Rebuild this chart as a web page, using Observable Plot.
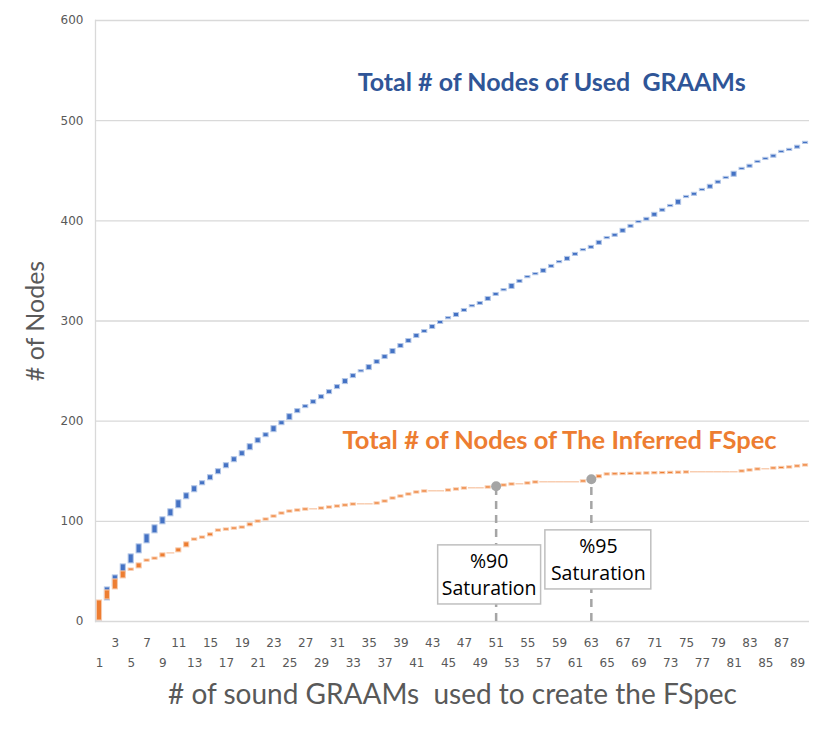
<!DOCTYPE html>
<html><head><meta charset="utf-8">
<script src="https://cdn.jsdelivr.net/npm/d3@7"></script>
<script src="https://cdn.jsdelivr.net/npm/@observablehq/plot@0.6"></script>
<style>body{margin:0;background:#fff;} #chart{width:830px;height:731px;}</style>
</head><body><div id="chart"></div>
<script>
// ---- data ----
const categories = d3.range(1, 91); // # of sound GRAAMs used
const usedGraamNodes = [20,34,46,57,67,77,87,96,104,112,121,128,135,140,146,152,158,164,170,177,
  183,188,195,200,207,212,216,221,226,231,236,242,247,250,256,261,266,272,277,282,
  287,291,296,300,303,308,312,315,319,324,328,331,337,341,344,347,352,356,359,364,
  368,371,375,380,383,387,392,396,399,403,408,412,415,421,424,428,431,436,440,443,
  449,452,456,459,462,466,469,471,475,478];
const inferredFSpecNodes = [21,31,42,50,52,58,61,63,68,68,73,79,82,84,88,91,92,93,94,98,
  100,102,105,108,110,111,112,112,113,114,115,116,117,117,117,118,120,123,125,127,
  129,130,130,130,131,132,133,133,133,134,135,136,137,137,138,139,139,139,139,139,
  139,140,142,146,147,147.2,147.4,147.6,147.8,148,148.2,148.4,148.6,148.8,149,149,149,149,149,149,
  149,150,151,152,152,153,153.5,154,155,156];
const seriesTitles = ["Total # of Nodes of Used  GRAAMs", "Total # of Nodes of The Inferred FSpec"];
const yTicks = [0, 100, 200, 300, 400, 500, 600];
const xTicksUpper = categories.filter(c => c % 4 === 3);
const xTicksLower = categories.filter(c => c % 4 === 1);
const satLabels = ["%90", "%95"];
const satCategories = [51, 63];
const yTitle = "# of Nodes";
const xTitle = "# of sound GRAAMs  used to create the FSpec";

// ---- derived ----
function steps(values) {
  return values.map((v, i) => {
    const prev = i ? values[i - 1] : 0;
    const inc = v - prev;
    let lo = prev + Math.min(1, inc * 0.3), hi = v;
    if (hi - lo < 2.2) { lo = v - 1.3; hi = v + 0.9; }
    return {cat: categories[i], value: v, inc, lo, hi};
  });
}
const blue = steps(usedGraamNodes);
const orange = steps(inferredFSpecNodes);
const sat = satCategories.map((c, i) => ({cat: c, label: satLabels[i], value: inferredFSpecNodes[c - 1]}));

const BLUE = "#4472C4", BLUE_PALE = "#b4c7e7", ORANGE = "#ED7D31", ORANGE_PALE = "#f8cbad";
const GREY = "#A5A5A5";

const chart = Plot.plot({
  width: 830, height: 731,
  marginLeft: 95, marginRight: 21, marginTop: 20, marginBottom: 110,
  style: {background: "#fff", fontFamily: "DejaVu Sans"},
  x: {type: "band", domain: categories, padding: 0},
  y: {domain: [0, 600]},
  marks: [
    Plot.gridY(yTicks, {stroke: "#d9d9d9", strokeOpacity: 1, strokeWidth: 1.3}),
    Plot.frame({anchor: "left", stroke: "#d9d9d9", strokeWidth: 1.3}),
    Plot.axisY(yTicks, {tickSize: 0, tickPadding: 12, fontSize: 12, color: "#595959", label: null}),
    Plot.axisX(xTicksUpper, {tickSize: 0, tickPadding: 17, fontSize: 12, color: "#595959", label: null}),
    Plot.axisX(xTicksLower, {tickSize: 0, tickPadding: 37, fontSize: 12, color: "#595959", label: null}),
    // zero-increment steps (pale)
    Plot.barY(blue.filter(d => d.inc <= 0), {x: "cat", y1: d => d.value - 0.7, y2: d => d.value + 0.7, fill: BLUE_PALE}),
    Plot.barY(blue.filter(d => d.inc > 0), {x: "cat", y1: "lo", y2: "hi", fill: BLUE, stroke: BLUE_PALE, strokeWidth: 1, insetLeft: 1.4, insetRight: 1.4}),
    Plot.barY(orange.filter(d => d.inc <= 0), {x: "cat", y1: d => d.value - 0.7, y2: d => d.value + 0.7, fill: ORANGE_PALE}),
    Plot.barY(orange.filter(d => d.inc > 0), {x: "cat", y1: "lo", y2: "hi", fill: ORANGE, stroke: ORANGE_PALE, strokeWidth: 1, insetLeft: 1.4, insetRight: 1.4}),
    // saturation markers
    Plot.ruleX(sat, {x: "cat", y1: 0, y2: "value", stroke: GREY, strokeWidth: 2.5, strokeDasharray: "8,6"}),
    Plot.dot(sat, {x: "cat", y: "value", r: 5, fill: GREY}),
    Plot.barY(sat.slice(0, 1), {x: "cat", y1: 17, y2: 76, fill: "#fff", stroke: "#bfbfbf", strokeWidth: 1.5, insetLeft: -54, insetRight: -41}),
    Plot.barY(sat.slice(1, 2), {x: "cat", y1: 32, y2: 91, fill: "#fff", stroke: "#bfbfbf", strokeWidth: 1.5, insetLeft: -42, insetRight: -56}),
    Plot.text(sat.slice(0, 1), {x: "cat", y: 60, text: "label", dx: -7, fontSize: 19.5, fontFamily: "Open Sans", fill: "#000"}),
    Plot.text(sat.slice(0, 1), {x: "cat", y: 33, text: () => "Saturation", dx: -7, fontSize: 19.5, fontFamily: "Open Sans", fill: "#000"}),
    Plot.text(sat.slice(1, 2), {x: "cat", y: 75, text: "label", dx: 7, fontSize: 19.5, fontFamily: "Open Sans", fill: "#000"}),
    Plot.text(sat.slice(1, 2), {x: "cat", y: 48, text: () => "Saturation", dx: 7, fontSize: 19.5, fontFamily: "Open Sans", fill: "#000"}),
    // series titles
    Plot.text([seriesTitles[0]], {x: () => 58, y: () => 538, text: d => d, fontSize: 25, fontWeight: "bold", fontFamily: "Lato", fill: "#2F5597"}),
    Plot.text([seriesTitles[1]], {x: () => 59, y: () => 180, text: d => d, fontSize: 25.5, fontWeight: "bold", fontFamily: "Lato", fill: ORANGE}),
    // axis titles
    Plot.text([yTitle], {frameAnchor: "left", dx: -60, rotate: -90, textAnchor: "middle", text: d => d, fontSize: 25, fontFamily: "Lato", fill: "#595959"}),
    Plot.text([xTitle], {frameAnchor: "bottom", dy: 82, text: d => d, fontSize: 28, fontFamily: "Lato", fill: "#595959"})
  ]
});
document.getElementById("chart").append(chart);
</script>
</body></html>
